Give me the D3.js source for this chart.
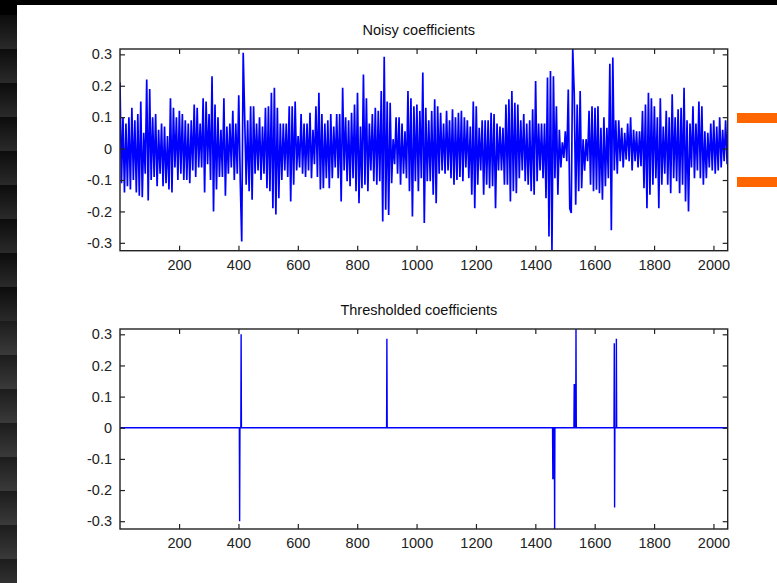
<!DOCTYPE html>
<html><head><meta charset="utf-8">
<script src="https://cdn.jsdelivr.net/npm/d3@7"></script>
<style>html,body{margin:0;padding:0;background:#000;overflow:hidden}</style>
</head><body><svg id="c" width="777" height="583"></svg>
<script>
// ---------- data ----------
const titles = ["Noisy coefficients", "Thresholded coefficients"];
const xTicks = [200, 400, 600, 800, 1000, 1200, 1400, 1600, 1800, 2000];
const yTicks = [-0.3, -0.2, -0.1, 0, 0.1, 0.2, 0.3];
const yTickLabels = ["-0.3", "-0.2", "-0.1", "0", "0.1", "0.2", "0.3"];
const sampleCount = 2048;          // coefficient indices 1..2048
const noisyStart = 1, noisyStep = 5; // read one value per 5 coefficients
const noisyValues = [
  0.21,-0.11,0.10,-0.14,0.08,-0.12,0.10,-0.13,0.13,-0.10,
  0.09,-0.14,0.11,-0.15,0.15,-0.155,0.05,-0.08,0.22,-0.165,
  0.19,-0.10,0.10,-0.09,0.11,-0.12,0.06,-0.08,0.08,-0.12,
  0.07,-0.11,0.04,-0.13,0.16,-0.14,0.13,-0.06,0.10,-0.10,
  0.12,-0.08,0.11,-0.10,0.09,-0.10,0.08,-0.11,0.09,-0.07,
  0.14,-0.09,0.13,-0.06,0.08,-0.06,0.16,-0.14,0.15,-0.05,
  0.11,-0.10,0.23,-0.20,0.14,-0.13,0.10,-0.09,0.06,-0.09,
  0.16,-0.15,0.07,-0.08,0.08,-0.06,0.12,-0.10,0.08,-0.08,
  0.17,-0.10,-0.296,0.305,0.10,-0.115,0.09,-0.136,0.135,-0.163,
  0.135,-0.08,0.08,-0.07,0.10,-0.10,0.07,-0.08,0.13,-0.126,
  0.135,-0.136,0.178,-0.19,0.194,-0.21,0.13,-0.158,0.08,-0.10,
  0.08,-0.07,0.08,-0.09,0.135,-0.168,0.135,-0.115,0.15,-0.07,
  0.04,-0.06,0.11,-0.08,0.08,-0.09,0.08,-0.07,0.114,-0.094,
  0.06,-0.05,0.135,-0.09,0.178,-0.13,0.11,-0.126,0.08,-0.094,
  0.09,-0.126,0.11,-0.094,0.07,-0.06,0.11,-0.094,0.11,-0.168,
  0.194,-0.07,0.10,-0.104,0.09,-0.12,0.114,-0.094,0.14,-0.136,
  0.178,-0.174,0.07,-0.126,0.236,-0.115,0.16,-0.136,0.08,-0.07,
  0.11,-0.104,0.13,-0.115,0.12,-0.104,0.183,-0.232,0.292,-0.195,
  0.15,-0.211,0.146,-0.11,0.03,-0.05,0.10,-0.08,0.10,-0.115,
  0.08,-0.08,0.055,-0.094,0.183,-0.136,0.16,-0.216,0.135,-0.104,
  0.14,-0.136,0.12,-0.094,0.242,-0.237,0.13,-0.104,0.09,-0.104,
  0.12,-0.147,0.157,-0.174,0.135,-0.08,0.114,-0.07,0.08,-0.08,
  0.12,-0.07,0.09,-0.094,0.125,-0.115,0.10,-0.10,0.114,-0.09,
  0.12,-0.104,0.10,-0.06,0.09,-0.094,0.07,-0.147,0.15,-0.19,
  0.135,-0.115,0.066,-0.07,0.09,-0.147,0.09,-0.115,0.09,-0.126,
  0.114,-0.12,0.11,-0.19,0.08,-0.07,0.07,-0.07,0.066,-0.115,
  0.14,-0.115,0.157,-0.168,0.183,-0.136,0.146,-0.142,0.14,-0.094,
  0.09,-0.07,0.11,-0.104,0.08,-0.115,0.09,-0.136,0.125,-0.147,
  0.215,-0.104,0.08,-0.07,0.08,-0.094,0.08,-0.158,0.226,-0.28,
  0.247,-0.325,0.23,-0.094,0.135,-0.147,0.06,-0.06,0.02,-0.03,
  0.055,-0.04,0.188,-0.19,-0.205,0.317,0.178,-0.179,0.14,-0.136,
  0.183,-0.126,0.03,-0.07,0.03,-0.04,0.12,-0.115,0.135,-0.136,
  0.13,-0.131,0.135,-0.142,0.066,-0.163,0.10,-0.12,0.066,-0.094,
  0.27,-0.26,0.29,-0.07,0.09,-0.08,0.09,-0.04,0.066,-0.06,
  0.05,-0.035,0.08,-0.04,0.10,-0.07,0.06,-0.04,0.055,-0.06,
  0.055,-0.056,0.12,-0.126,0.14,-0.19,0.178,-0.147,0.16,-0.115,
  0.135,-0.094,0.10,-0.19,0.16,-0.115,0.07,-0.08,0.12,-0.115,
  0.10,-0.142,0.173,-0.094,0.10,-0.104,0.125,-0.142,0.13,-0.115,
  0.194,-0.168,0.09,-0.20,0.08,-0.06,0.135,-0.094,0.08,-0.07,
  0.15,-0.094,0.135,-0.115,0.055,-0.094,0.05,-0.06,0.08,-0.07,
  0.09,-0.08,0.07,-0.07,0.10,-0.06,0.06,-0.04,0.09,-0.05
];
// thresholded coefficients: nonzero entries only, all others are 0
const threshIndex = [404, 409, 900, 1459, 1460, 1465, 1531, 1532, 1537, 1666, 1667, 1673];
const threshValues = [-0.30, 0.30, 0.286, -0.163, -0.163, -0.325, 0.138, 0.138, 0.317, 0.271, -0.256, 0.286];

// ---------- layout ----------
const W = 777, H = 583;
const panels = [
  {left: 120, right: 727.7, top: 49, bottom: 250.7, titleY: 35},
  {left: 120, right: 727.7, top: 329, bottom: 529, titleY: 315}
];
const svg = d3.select("#c");
const FONT = "'Liberation Sans', Arial, sans-serif";

// background: black slide with dark banded left edge
svg.append("rect").attr("width", W).attr("height", H).attr("fill", "#000");
const defs = svg.append("defs");
const grad = defs.append("linearGradient").attr("id", "band").attr("x1", 0).attr("y1", 0).attr("x2", 0).attr("y2", 1);
grad.append("stop").attr("offset", "0%").attr("stop-color", "#0c0c0c");
grad.append("stop").attr("offset", "100%").attr("stop-color", "#2a2a2a");
const grad2 = defs.append("linearGradient").attr("id", "band2").attr("x1", 0).attr("y1", 0).attr("x2", 0).attr("y2", 1);
grad2.append("stop").attr("offset", "0%").attr("stop-color", "#1c1c1c");
grad2.append("stop").attr("offset", "100%").attr("stop-color", "#3a3a3a");
for (let y = 15; y < H; y += 34) {
  svg.append("rect").attr("x", 0).attr("y", y).attr("width", 17).attr("height", 34)
    .attr("fill", y > 300 ? "url(#band2)" : "url(#band)");
}
svg.append("rect").attr("x", 17).attr("y", 5).attr("width", W - 17).attr("height", H - 5).attr("fill", "#fff");

// orange slide markers
svg.append("rect").attr("x", 737).attr("y", 113).attr("width", 40).attr("height", 10).attr("fill", "#ff6600");
svg.append("rect").attr("x", 737).attr("y", 177).attr("width", 40).attr("height", 10).attr("fill", "#ff6600");

// ---------- series ----------
const noisy = noisyValues.map((v, i) => ({x: noisyStart + i * noisyStep, y: v}));
const tMap = new Map(threshIndex.map((k, i) => [k, threshValues[i]]));
const thresh = d3.range(1, sampleCount + 1).map(k => ({x: k, y: tMap.has(k) ? tMap.get(k) : 0}));
const allY = noisyValues.concat(threshValues);
const yDomain = [d3.min(allY), d3.max(allY)];

[noisy, thresh].forEach((series, pi) => {
  const p = panels[pi];
  const x = d3.scaleLinear().domain([1, sampleCount]).range([p.left, p.right]);
  const y = d3.scaleLinear().domain(yDomain).range([p.bottom, p.top]);
  const g = svg.append("g");
  const cid = "clip" + pi;
  defs.append("clipPath").attr("id", cid).append("rect")
    .attr("x", p.left).attr("y", p.top).attr("width", p.right - p.left).attr("height", p.bottom - p.top);

  g.append("path").datum(series)
    .attr("clip-path", `url(#${cid})`)
    .attr("fill", "none").attr("stroke", "#0000ff").attr("stroke-width", pi === 0 ? 1.7 : 1.4)
    .attr("stroke-linejoin", "miter").attr("stroke-miterlimit", 2)
    .attr("d", d3.line().x(d => x(d.x)).y(d => y(d.y)));

  // axes (MATLAB-style box with inward ticks on all sides)
  const tl = 5;
  const mk = (axis, tr) => g.append("g").attr("transform", tr).call(axis)
    .call(s => s.select(".domain").remove())
    .call(s => s.selectAll("line").attr("stroke", "#222").attr("stroke-width", 1.2));
  const bx = mk(d3.axisBottom(x).tickValues(xTicks).tickSize(-tl).tickPadding(tl + 4).tickFormat(d3.format("d")), `translate(0,${p.bottom})`);
  bx.selectAll("text").attr("font-family", FONT).attr("font-size", 14.5).attr("fill", "#222");
  mk(d3.axisTop(x).tickValues(xTicks).tickSize(-tl).tickFormat(""), `translate(0,${p.top})`);
  const ly = mk(d3.axisLeft(y).tickValues(yTicks).tickSize(-tl).tickPadding(tl + 3)
    .tickFormat((d, i) => yTickLabels[i]), `translate(${p.left},0)`);
  ly.selectAll("text").attr("font-family", FONT).attr("font-size", 14.5).attr("fill", "#222");
  mk(d3.axisRight(y).tickValues(yTicks).tickSize(-tl).tickFormat(""), `translate(${p.right},0)`);

  g.append("rect").attr("x", p.left).attr("y", p.top).attr("width", p.right - p.left).attr("height", p.bottom - p.top)
    .attr("fill", "none").attr("stroke", "#222").attr("stroke-width", 1.4);

  g.append("text").attr("x", (p.left + p.right) / 2 - 5).attr("y", p.titleY)
    .attr("text-anchor", "middle").attr("font-family", FONT).attr("font-size", 14.5).attr("fill", "#111")
    .text(titles[pi]);
});
</script></body></html>
